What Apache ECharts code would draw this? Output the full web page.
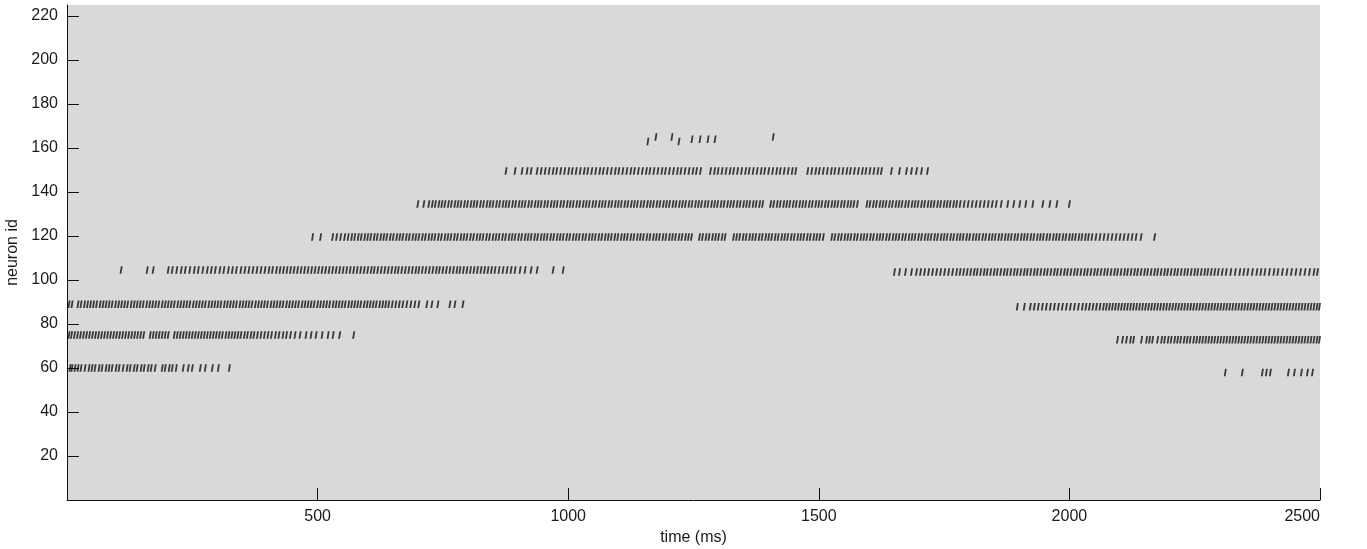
<!DOCTYPE html>
<html><head><meta charset="utf-8">
<script src="https://cdn.jsdelivr.net/npm/echarts@6/dist/echarts.min.js"></script>
<style>html,body{margin:0;padding:0;background:#fff}#c{width:1367px;height:549px}</style>
</head><body><div id="c"></div>
<script>
// spike times (ms) per neuron group
const group60Early = [6,10,16,22,28,36,44,50,56,64,70,78,84,90,98,104,112,120,126,134,140,148,154,162,168,176,190,196,204,210,218,232,242,250,266,276,290,302,324];
const group58Late = [2311,2345,2385,2393,2401,2437,2449,2463,2475,2485];
const group75Early = [4,9,15,21,27,33,39,45,51,57,63,69,75,81,87,93,99,105,111,117,123,129,135,141,147,153,166,172,178,184,190,196,202,214,220,226,232,238,244,250,256,262,268,274,280,286,292,298,304,310,317,323,329,335,341,347,354,360,367,373,380,387,394,401,408,416,423,431,438,446,455,465,477,487,497,509,521,531,544,572];
const group73Late = [2096,2106,2114,2122,2128,2144,2154,2160,2166,2176,2184,2190,2197,2203,2210,2216,2222,2229,2235,2241,2248,2254,2260,2266,2272,2278,2284,2290,2296,2302,2308,2314,2320,2326,2332,2338,2344,2350,2356,2362,2368,2374,2380,2386,2392,2398,2404,2410,2416,2422,2428,2434,2440,2446,2452,2458,2464,2470,2476,2482,2488,2494,2499];
const group89Early = [4,10,22,28,35,41,47,53,59,66,72,78,84,90,97,103,109,115,121,128,134,140,146,152,159,165,171,177,183,190,196,202,208,214,221,227,233,239,245,252,258,264,270,276,283,289,295,301,307,314,320,326,332,338,345,351,357,363,369,376,382,388,394,400,407,413,419,425,431,438,444,450,456,462,469,475,481,487,493,500,506,512,518,524,531,537,543,549,555,562,568,574,580,586,593,599,605,611,617,624,630,636,642,649,656,663,670,678,686,694,702,718,728,740,764,774,790];
const group88Late = [1896,1910,1922,1930,1938,1946,1954,1962,1970,1978,1986,1994,2002,2010,2018,2026,2033,2040,2047,2054,2061,2068,2074,2080,2086,2092,2098,2104,2110,2116,2122,2128,2134,2140,2146,2152,2158,2164,2170,2176,2182,2188,2194,2200,2206,2212,2218,2224,2230,2236,2242,2248,2254,2260,2266,2272,2278,2284,2290,2296,2302,2308,2314,2320,2326,2332,2338,2344,2350,2356,2362,2368,2374,2380,2386,2392,2398,2404,2410,2416,2422,2428,2434,2440,2446,2452,2458,2464,2470,2476,2482,2488,2494,2499];
const group104Early = [108,160,172,202,210,219,228,236,245,254,262,271,280,288,296,305,313,322,330,338,347,355,363,371,379,387,395,403,410,418,425,432,439,446,453,460,467,474,481,488,495,502,509,516,523,530,537,544,551,558,565,572,579,586,593,600,607,613,620,627,634,641,648,655,661,668,675,682,689,696,702,709,716,723,730,737,743,750,757,764,771,778,784,791,798,805,812,819,826,833,840,847,854,862,870,878,886,894,904,914,926,938,970,990];
const group103Late = [1651,1661,1673,1685,1695,1703,1711,1719,1727,1735,1743,1751,1759,1767,1775,1782,1789,1796,1803,1810,1816,1823,1830,1836,1843,1850,1856,1863,1870,1876,1883,1890,1896,1903,1910,1916,1923,1930,1936,1943,1950,1956,1963,1970,1976,1983,1990,1996,2003,2010,2016,2023,2030,2036,2043,2050,2056,2063,2070,2076,2083,2090,2096,2103,2110,2116,2123,2130,2136,2143,2150,2156,2163,2170,2176,2183,2190,2196,2203,2210,2216,2223,2230,2236,2243,2250,2256,2263,2270,2276,2283,2290,2297,2305,2313,2322,2331,2340,2348,2356,2365,2374,2382,2390,2399,2408,2416,2425,2434,2443,2452,2461,2470,2479,2488,2495];
const group119 = [490,506,530,538,546,554,561,568,574,581,587,594,600,606,613,619,626,632,638,645,651,658,664,670,677,683,690,696,702,709,715,722,728,734,741,747,754,760,766,773,779,786,792,798,805,811,818,824,830,837,843,850,856,862,869,875,882,888,894,901,907,914,920,926,933,939,946,952,958,965,971,978,984,990,997,1003,1010,1016,1022,1029,1035,1042,1048,1054,1061,1067,1074,1080,1086,1093,1099,1106,1112,1118,1125,1131,1138,1144,1150,1157,1163,1170,1176,1182,1189,1195,1202,1208,1214,1221,1227,1234,1240,1246,1262,1268,1275,1281,1288,1294,1300,1307,1313,1330,1336,1342,1349,1355,1362,1368,1374,1381,1387,1394,1400,1406,1413,1419,1426,1432,1438,1445,1451,1458,1464,1470,1477,1483,1490,1496,1502,1509,1526,1532,1539,1545,1552,1558,1564,1571,1577,1584,1590,1596,1603,1609,1616,1622,1628,1635,1641,1648,1654,1660,1667,1673,1680,1686,1692,1699,1705,1712,1718,1724,1731,1737,1744,1750,1756,1763,1769,1776,1782,1788,1795,1801,1808,1814,1820,1827,1833,1840,1846,1852,1859,1865,1872,1878,1884,1891,1897,1904,1910,1916,1923,1929,1936,1942,1948,1955,1961,1968,1974,1980,1987,1993,2000,2006,2012,2019,2025,2032,2038,2045,2053,2061,2069,2077,2085,2093,2101,2109,2117,2125,2133,2143,2170];
const group134 = [700,712,722,729,735,742,748,754,761,767,774,780,786,793,799,806,812,818,825,831,838,844,850,857,863,870,876,882,889,895,902,908,914,921,927,934,940,946,953,959,966,972,978,985,991,998,1004,1010,1017,1023,1030,1036,1042,1049,1055,1062,1068,1074,1081,1087,1094,1100,1106,1113,1119,1126,1132,1138,1145,1151,1158,1164,1170,1177,1183,1190,1196,1202,1209,1215,1222,1228,1234,1241,1247,1254,1260,1266,1273,1279,1286,1292,1298,1305,1311,1318,1324,1330,1337,1343,1350,1356,1362,1369,1375,1382,1388,1404,1410,1417,1423,1430,1436,1442,1449,1455,1462,1468,1474,1481,1487,1494,1500,1506,1513,1519,1526,1532,1538,1545,1551,1558,1564,1570,1577,1596,1602,1609,1615,1622,1628,1634,1641,1647,1654,1660,1666,1673,1679,1686,1692,1698,1705,1711,1718,1724,1730,1737,1743,1750,1756,1762,1769,1775,1782,1790,1798,1806,1814,1822,1830,1838,1846,1854,1864,1877,1889,1901,1913,1927,1947,1961,1975,2000];
const group149 = [876,894,908,918,926,938,946,954,962,970,977,985,993,1001,1008,1016,1024,1032,1039,1047,1055,1063,1070,1078,1086,1094,1101,1109,1117,1125,1132,1140,1148,1156,1163,1171,1179,1187,1194,1202,1210,1218,1225,1233,1241,1249,1256,1264,1284,1292,1299,1307,1315,1323,1330,1338,1346,1354,1361,1369,1377,1385,1392,1400,1408,1416,1423,1431,1439,1447,1454,1478,1486,1494,1501,1509,1517,1525,1532,1540,1548,1556,1563,1571,1579,1587,1594,1602,1610,1618,1625,1645,1661,1675,1685,1695,1705,1717];
const group164Times = [1159,1175,1207,1221,1247,1263,1279,1293,1409];
const group164Ids = [163,165,165,163,164,164,164,164,165];

// neuron id (row) of each group
const groupIds = [60, 58, 75, 72.8, 89, 87.8, 104.5, 103.6, 119.5, 134.5, 149.5];
const groupTimes = [group60Early, group58Late, group75Early, group73Late, group89Early, group88Late, group104Early, group103Late, group119, group134, group149];

const spikes = [];
groupTimes.forEach((arr, gi) => arr.forEach(t => spikes.push([t, groupIds[gi]])));
group164Times.forEach((t, i) => spikes.push([t, group164Ids[i]]));

const chart = echarts.init(document.getElementById('c'), null, {renderer: 'canvas'});
const font = 'Liberation Sans, Arial, Helvetica, sans-serif';
const plain = v => String(v);
chart.setOption({
  animation: false,
  backgroundColor: '#ffffff',
  grid: {left: 67, right: 47, top: 5, bottom: 49, containLabel: false, outerBoundsMode: 'none',
         show: true, backgroundColor: '#d9d9d9', borderWidth: 0},
  xAxis: {
    type: 'value', min: 0, max: 2500, interval: 500,
    name: 'time (ms)', nameLocation: 'middle', nameGap: 25,
    nameTextStyle: {fontFamily: font, fontSize: 16, color: '#1a1a1a'},
    axisLine: {show: true, onZero: false, lineStyle: {color: '#111', width: 1}},
    axisTick: {show: true, inside: true, length: 12, lineStyle: {color: '#111'}},
    axisLabel: {fontFamily: font, fontSize: 16, color: '#1a1a1a', margin: 9, showMinLabel: false, alignMaxLabel: 'right', formatter: plain},
    splitLine: {show: false}
  },
  yAxis: {
    type: 'value', min: 0, max: 225, interval: 20,
    name: 'neuron id', nameLocation: 'middle', nameGap: 43, nameRotate: 90,
    nameTextStyle: {fontFamily: font, fontSize: 16, color: '#1a1a1a'},
    axisLine: {show: true, onZero: false, lineStyle: {color: '#111', width: 1}},
    axisTick: {show: true, inside: true, length: 12, lineStyle: {color: '#111'}},
    axisLabel: {fontFamily: font, fontSize: 16, color: '#1a1a1a', margin: 9, showMinLabel: false, showMaxLabel: false, formatter: plain},
    splitLine: {show: false}
  },
  series: [{
    type: 'scatter',
    data: spikes,
    symbol: 'path://M1.2,0 L3,0 L1.8,7.5 L0,7.5 Z',
    symbolSize: [3, 7.5],
    itemStyle: {color: '#101010'},
    silent: true
  }]
});
</script>
</body></html>
